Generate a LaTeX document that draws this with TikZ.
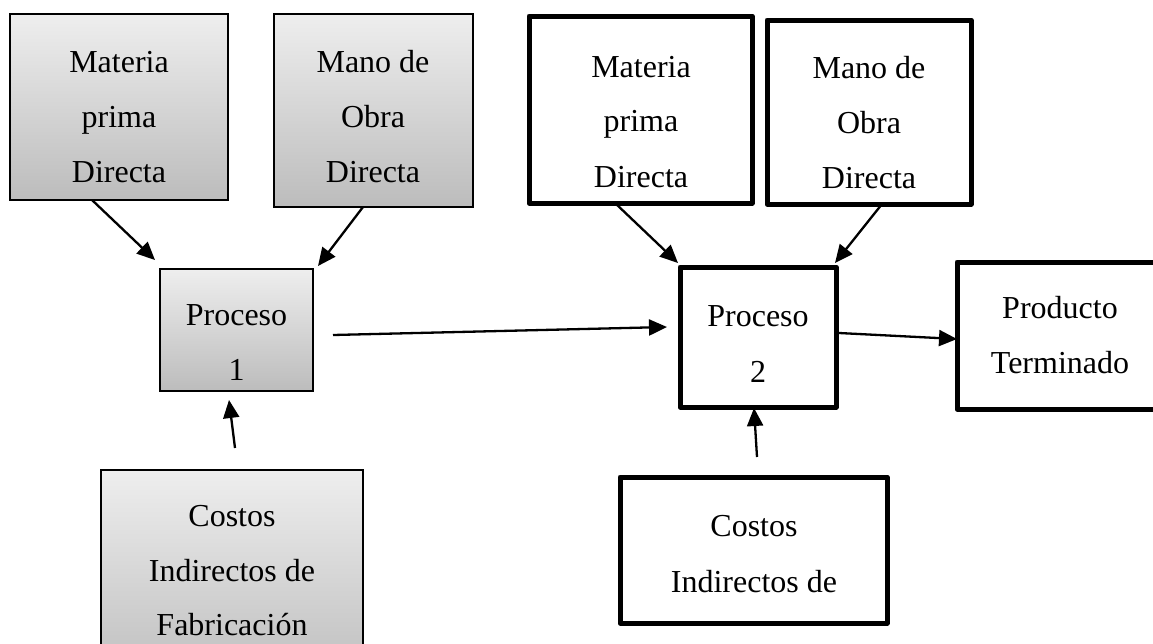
\documentclass[tikz,border=0pt]{standalone}
\usepackage{fontspec}
\setmainfont{Liberation Serif}
\usetikzlibrary{arrows.meta,calc}
\definecolor{gtop}{RGB}{238,238,238}
\definecolor{gbot}{RGB}{188,188,188}
\begin{document}
\begin{tikzpicture}[x=1pt,y=-1pt,
  graybox/.style={draw=black, line width=1.8pt, top color=gtop, bottom color=gbot, anchor=north west, inner sep=0pt, outer sep=0pt},
  thickbox/.style={draw=black, line width=5pt, line join=round, fill=white, anchor=north west, inner sep=0pt, outer sep=0pt},
  lbl/.style={font=\fontsize{32}{38}\selectfont, inner sep=0pt, anchor=base},
  arr/.style={line width=2.3pt, -{Triangle[length=18pt,width=16pt]}}]
\useasboundingbox (0,0) rectangle (1153,643);
\clip (0,0) rectangle (1153,643);
\fill[white] (0,0) rectangle (1153,643);
% boxes
\node[graybox, minimum width=218pt, minimum height=186pt] (A) at (10,14) {};
\node[graybox, minimum width=199pt, minimum height=193pt] (B) at (274,14) {};
\node[thickbox, minimum width=223pt, minimum height=187pt] (C) at (529,16) {};
\node[thickbox, minimum width=204pt, minimum height=184pt] (D) at (767,20) {};
\node[graybox, minimum width=153pt, minimum height=122pt] (P1) at (160,269) {};
\node[thickbox, minimum width=156pt, minimum height=140pt] (P2) at (680,267) {};
\node[thickbox, minimum width=206pt, minimum height=147pt] (PT) at (957,262) {};
\node[graybox, minimum width=262pt, minimum height=220pt] (C1) at (101,470) {};
\node[thickbox, minimum width=267pt, minimum height=146pt] (C2) at (620,477) {};
% texts
\node[lbl] (A1) at (119,72) {Materia};
\node[lbl] (A2) at (119,127) {prima};
\node[lbl] (A3) at (119,182) {Directa};
\node[lbl] (B1) at (373,72) {Mano de};
\node[lbl] (B2) at (373,127) {Obra};
\node[lbl] (B3) at (373,182) {Directa};
\node[lbl] (Ct1) at (641,77) {Materia};
\node[lbl] (Ct2) at (641,131) {prima};
\node[lbl] (Ct3) at (641,187) {Directa};
\node[lbl] (D1) at (869,78) {Mano de};
\node[lbl] (D2) at (869,133) {Obra};
\node[lbl] (D3) at (869,188) {Directa};
\node[lbl] (P1a) at (236.5,325) {Proceso};
\node[lbl] (P1b) at (236.5,380) {1};
\node[lbl] (P2a) at (758,326) {Proceso};
\node[lbl] (P2b) at (758,382) {2};
\node[lbl] (PTa) at (1060,318) {Producto};
\node[lbl] (PTb) at (1060,373) {Terminado};
\node[lbl] (C1a) at (232,526) {Costos};
\node[lbl] (C1b) at (232,581) {Indirectos de};
\node[lbl] (C1c) at (232,635) {Fabricación};
\node[lbl] (C2a) at (754,536) {Costos};
\node[lbl] (C2b) at (754,592) {Indirectos de};
% connector end points
\coordinate (a0) at ($(A.south west)+(82,0)$);
\coordinate (a1) at ($(P1.north west)+(-5,-9)$);
\coordinate (b0) at ($(B.south west)+(89,0)$);
\coordinate (b1) at ($(P1.north east)+(5,-3)$);
\coordinate (c0) at ($(C.south west)+(86,0)$);
\coordinate (c1) at ($(P2.north west)+(-2,-4)$);
\coordinate (d0) at ($(D.south west)+(115,0)$);
\coordinate (d1) at ($(P2.north east)+(-1,-4)$);
\coordinate (p0) at ($(P1.east)+(20,5)$);
\coordinate (p1) at ($(P2.west)+(-13,-10)$);
\coordinate (q0) at ($(P2.east)+(3,-4)$);
\coordinate (q1) at ($(PT.west)+(0,3.5)$);
\coordinate (e0) at ($(C1.north west)+(134,-22)$);
\coordinate (e1) at ($(P1.south west)+(69,9)$);
\coordinate (f0) at ($(C2.north west)+(137,-20)$);
\coordinate (f1) at ($(P2.south west)+(74,1)$);
% connectors
\draw[arr] (a0) -- (a1);
\draw[arr] (b0) -- (b1);
\draw[arr] (c0) -- (c1);
\draw[arr] (d0) -- (d1);
\draw[arr] (p0) -- (p1);
\draw[arr] (q0) -- (q1);
\draw[arr] (e0) -- (e1);
\draw[arr] (f0) -- (f1);
\end{tikzpicture}
\end{document}
